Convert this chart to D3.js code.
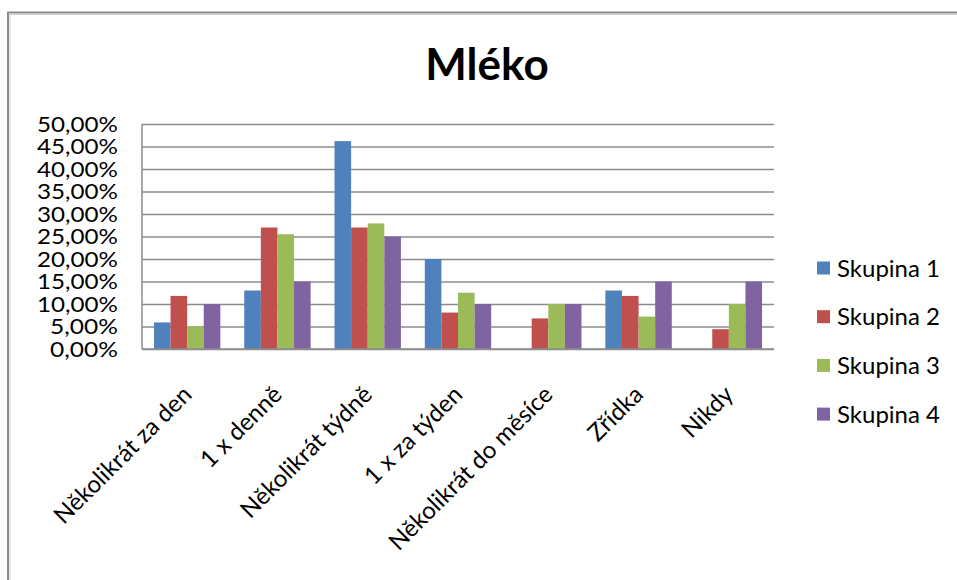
<!DOCTYPE html>
<html>
<head>
<meta charset="utf-8">
<script src="https://cdn.jsdelivr.net/npm/d3@7"></script>
<style>
  html, body { margin: 0; padding: 0; background: #fff; }
  svg { display: block; }
  text { font-family: Lato, "Open Sans", "Liberation Sans", sans-serif; fill: #000; }
</style>
</head>
<body>
<svg id="chart" width="957" height="580"></svg>
<script>
// Frequency of milk consumption per group (share of respondents)
const categories = ["Několikrát za den", "1 x denně", "Několikrát týdně", "1 x za týden", "Několikrát do měsíce", "Zřídka", "Nikdy"];
const seriesNames = ["Skupina 1", "Skupina 2", "Skupina 3", "Skupina 4"];
const skupina1 = [0.059, 0.130, 0.462, 0.200, 0.000, 0.130, 0.000];
const skupina2 = [0.118, 0.270, 0.270, 0.081, 0.068, 0.118, 0.044];
const skupina3 = [0.050, 0.255, 0.279, 0.125, 0.100, 0.072, 0.100];
const skupina4 = [0.100, 0.150, 0.250, 0.100, 0.100, 0.150, 0.150];
const yTicks = [0, 0.05, 0.10, 0.15, 0.20, 0.25, 0.30, 0.35, 0.40, 0.45, 0.50];
const colors = ["#4F81BD", "#C0504D", "#9BBB59", "#8064A2"];
const title = "Mléko";

const series = [skupina1, skupina2, skupina3, skupina4];

const svg = d3.select("#chart");

// chart frame
svg.append("rect")
  .attr("x", 8).attr("y", 12.5)
  .attr("width", 1000).attr("height", 600)
  .attr("fill", "none").attr("stroke", "#8a8a8a").attr("stroke-width", 2);
svg.append("path")
  .attr("d", "M10,14.5H957M10,14.5V580")
  .attr("stroke", "#d0d0d0").attr("stroke-width", 1).attr("fill", "none");

const plot = { left: 142, right: 774, top: 124, bottom: 349 };

const x0 = d3.scaleBand().domain(categories).range([plot.left, plot.right]).paddingInner(0).paddingOuter(0);
const x1 = d3.scaleBand().domain(seriesNames).range([0, x0.bandwidth()]).paddingOuter(0.72).paddingInner(0);
const y = d3.scaleLinear().domain([0, 0.5]).range([plot.bottom, plot.top]);

const fmt = v => d3.format(".2f")(v * 100).replace(".", ",") + "%";

// gridlines
svg.append("g")
  .attr("transform", `translate(${plot.left},0)`)
  .call(d3.axisLeft(y).tickValues(yTicks).tickSize(-(plot.right - plot.left)).tickFormat(""))
  .call(g => g.select(".domain").remove())
  .call(g => g.selectAll(".tick line").attr("stroke", "#8c8c8c").attr("stroke-width", 1.5));

// y tick labels
svg.append("g")
  .selectAll("text")
  .data(yTicks)
  .join("text")
  .attr("x", 118)
  .attr("y", d => y(d))
  .attr("dy", "0.36em")
  .attr("text-anchor", "end")
  .attr("font-size", 22)
  .attr("textLength", d => fmt(d).length === 6 ? 81 : 68)
  .attr("lengthAdjust", "spacingAndGlyphs")
  .text(fmt);

// bars
const groups = svg.append("g")
  .selectAll("g")
  .data(categories)
  .join("g")
  .attr("transform", d => `translate(${x0(d)},0)`);

groups.selectAll("rect")
  .data((c, i) => seriesNames.map((s, j) => ({ s, v: series[j][i], j })))
  .join("rect")
  .attr("x", d => x1(d.s))
  .attr("y", d => y(d.v))
  .attr("width", x1.bandwidth())
  .attr("height", d => y(0) - y(d.v))
  .attr("fill", d => colors[d.j]);

// axes lines
svg.append("line")
  .attr("x1", plot.left).attr("x2", plot.left)
  .attr("y1", plot.top).attr("y2", plot.bottom)
  .attr("stroke", "#8c8c8c").attr("stroke-width", 1.5);
svg.append("line")
  .attr("x1", plot.left).attr("x2", plot.right)
  .attr("y1", plot.bottom).attr("y2", plot.bottom)
  .attr("stroke", "#8c8c8c").attr("stroke-width", 1.5);

// category labels
svg.append("g")
  .selectAll("text")
  .data(categories)
  .join("text")
  .attr("text-anchor", "end")
  .attr("font-size", 24)
  .attr("transform", d => `translate(${x0(d) + x0.bandwidth() / 2 + 6},${plot.bottom + 47}) rotate(-45)`)
  .text(d => d);

// title
svg.append("text")
  .attr("x", 487).attr("y", 80)
  .attr("text-anchor", "middle")
  .attr("font-size", 44)
  .attr("font-weight", "bold")
  .text(title);

// legend
const legend = svg.append("g")
  .selectAll("g")
  .data(seriesNames)
  .join("g")
  .attr("transform", (d, i) => `translate(817,${268 + i * 48.7})`);
legend.append("rect")
  .attr("x", 0).attr("y", -6.5)
  .attr("width", 13).attr("height", 13)
  .attr("fill", (d, i) => colors[i]);
legend.append("text")
  .attr("x", 20).attr("y", 0).attr("dy", "0.36em")
  .attr("font-size", 24)
  .text(d => d);
</script>
</body>
</html>
